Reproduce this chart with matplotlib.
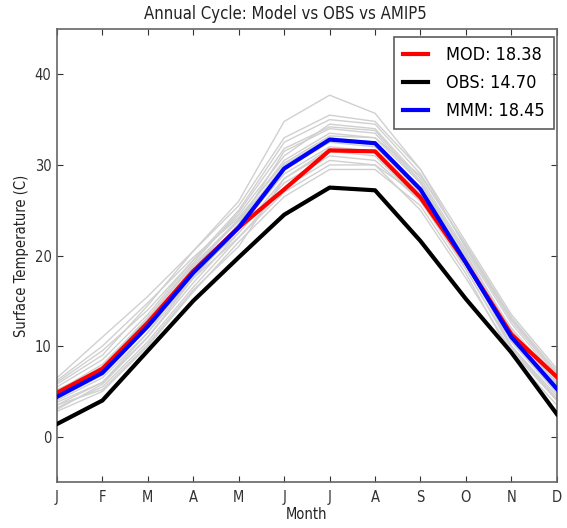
import matplotlib
matplotlib.use("Agg")
import matplotlib.pyplot as plt

plt.rcParams["font.family"] = ["DejaVu Sans"]
plt.rcParams["font.stretch"] = "condensed"

months = ["J", "F", "M", "A", "M", "J", "J", "A", "S", "O", "N", "D"]

mod = [4.85, 7.5, 12.6, 18.3, 23.1, 27.3, 31.6, 31.5, 26.4, 19.2, 11.3, 6.6]
obs = [1.4, 4.0, 9.5, 15.0, 19.8, 24.5, 27.5, 27.2, 21.6, 15.2, 9.3, 2.5]
mmm = [4.4, 7.05, 12.2, 18.1, 23.1, 29.6, 32.8, 32.4, 27.3, 19.2, 11.0, 5.3]

models = [
    [3.2, 5.5, 10.5, 16.5, 22.0, 27.5, 30.5, 30.0, 25.0, 17.5, 9.5, 4.0],
    [5.5, 8.5, 13.5, 19.5, 24.5, 31.0, 34.5, 34.0, 28.5, 20.5, 12.5, 6.5],
    [6.5, 11.0, 15.5, 20.5, 26.0, 34.8, 37.7, 35.7, 29.5, 21.5, 13.5, 7.5],
    [4.0, 6.5, 11.5, 17.5, 23.0, 29.0, 32.0, 31.5, 26.5, 19.0, 10.5, 5.0],
    [3.5, 6.0, 11.0, 17.0, 22.5, 28.0, 31.0, 30.5, 26.0, 18.5, 10.0, 4.5],
    [5.0, 8.0, 13.0, 19.0, 24.0, 30.5, 33.5, 33.0, 28.0, 20.0, 11.5, 6.0],
    [2.8, 5.0, 10.0, 16.0, 21.5, 26.5, 29.5, 29.5, 25.5, 18.0, 9.0, 3.5],
    [6.0, 9.5, 14.0, 19.5, 25.0, 32.5, 35.0, 34.5, 29.0, 21.0, 13.0, 7.0],
    [4.5, 7.0, 12.0, 18.0, 23.5, 30.0, 33.0, 32.5, 27.5, 19.5, 11.0, 5.5],
    [3.8, 6.0, 11.5, 18.5, 24.0, 29.5, 32.5, 32.0, 27.0, 19.0, 10.5, 4.8],
    [5.2, 7.5, 12.5, 18.0, 22.5, 28.5, 31.5, 31.0, 26.0, 19.5, 12.0, 6.2],
    [4.2, 6.8, 12.0, 17.5, 22.0, 27.0, 30.0, 30.0, 26.5, 19.0, 10.8, 5.2],
    [3.0, 5.8, 11.0, 17.5, 23.5, 31.5, 34.0, 33.5, 28.0, 19.5, 10.0, 4.2],
    [5.8, 9.0, 14.5, 20.5, 25.5, 33.0, 35.5, 34.8, 29.5, 20.8, 12.8, 6.8],
    [4.8, 7.2, 12.5, 18.8, 23.8, 29.8, 32.8, 32.2, 27.2, 19.8, 11.5, 5.8],
    [3.5, 5.2, 10.2, 16.2, 21.0, 28.5, 31.8, 31.5, 26.8, 18.5, 9.8, 4.0],
    [4.6, 7.8, 13.2, 19.2, 24.8, 31.8, 34.2, 33.8, 28.2, 20.2, 11.8, 5.6],
    [6.2, 10.0, 14.8, 19.8, 24.2, 30.2, 33.2, 33.0, 28.8, 21.2, 13.2, 7.2],
]

labels = ["MOD: 18.38", "OBS: 14.70", "MMM: 18.45"]
title = "Annual Cycle: Model vs OBS vs AMIP5"
xlabel = "Month"
ylabel = "Surface Temperature (C)"
yticks = [0, 10, 20, 30, 40]

fig = plt.figure(figsize=(5.67, 5.28), dpi=100)
ax = fig.add_axes([0.1005, 0.0871, 0.8815, 0.8579])
x = list(range(len(months)))

for m in models:
    ax.plot(x, m, color="#d0d0d0", lw=1.0, zorder=1)

ax.plot(x, mod, color="red", lw=3, label=labels[0], zorder=3)
ax.plot(x, obs, color="black", lw=3, label=labels[1], zorder=3)
ax.plot(x, mmm, color="blue", lw=3, label=labels[2], zorder=3)

ax.set_xlim(0, 11)
ax.set_ylim(-5, 45)
ax.set_xticks(x)
ax.set_xticklabels(months)
ax.set_yticks(yticks)
ax.tick_params(direction="in", top=True, right=True, length=4, labelsize=10.5,
               colors="#333333", pad=4)
ax.tick_params(axis="x", pad=6)
for s in ax.spines.values():
    s.set_color("#666666")
    s.set_linewidth(1.2)

fig.text(0.503, 1 - 19 / 528, title, fontsize=12, color="#222222",
         ha="center", va="baseline")
ax.set_xlabel(xlabel, fontsize=10.5, color="#222222", labelpad=1)
ax.set_ylabel(ylabel, fontsize=10.5, color="#222222", labelpad=4)

leg = ax.legend(loc="upper right", fontsize=13, fancybox=False, handlelength=1.4,
                borderpad=0.5, labelspacing=0.55, handletextpad=1.0,
                borderaxespad=0.0, bbox_to_anchor=(0.994, 0.982))
leg.get_frame().set_edgecolor("#333333")
leg.get_frame().set_linewidth(1.2)

fig.savefig("out.png", dpi=100)
